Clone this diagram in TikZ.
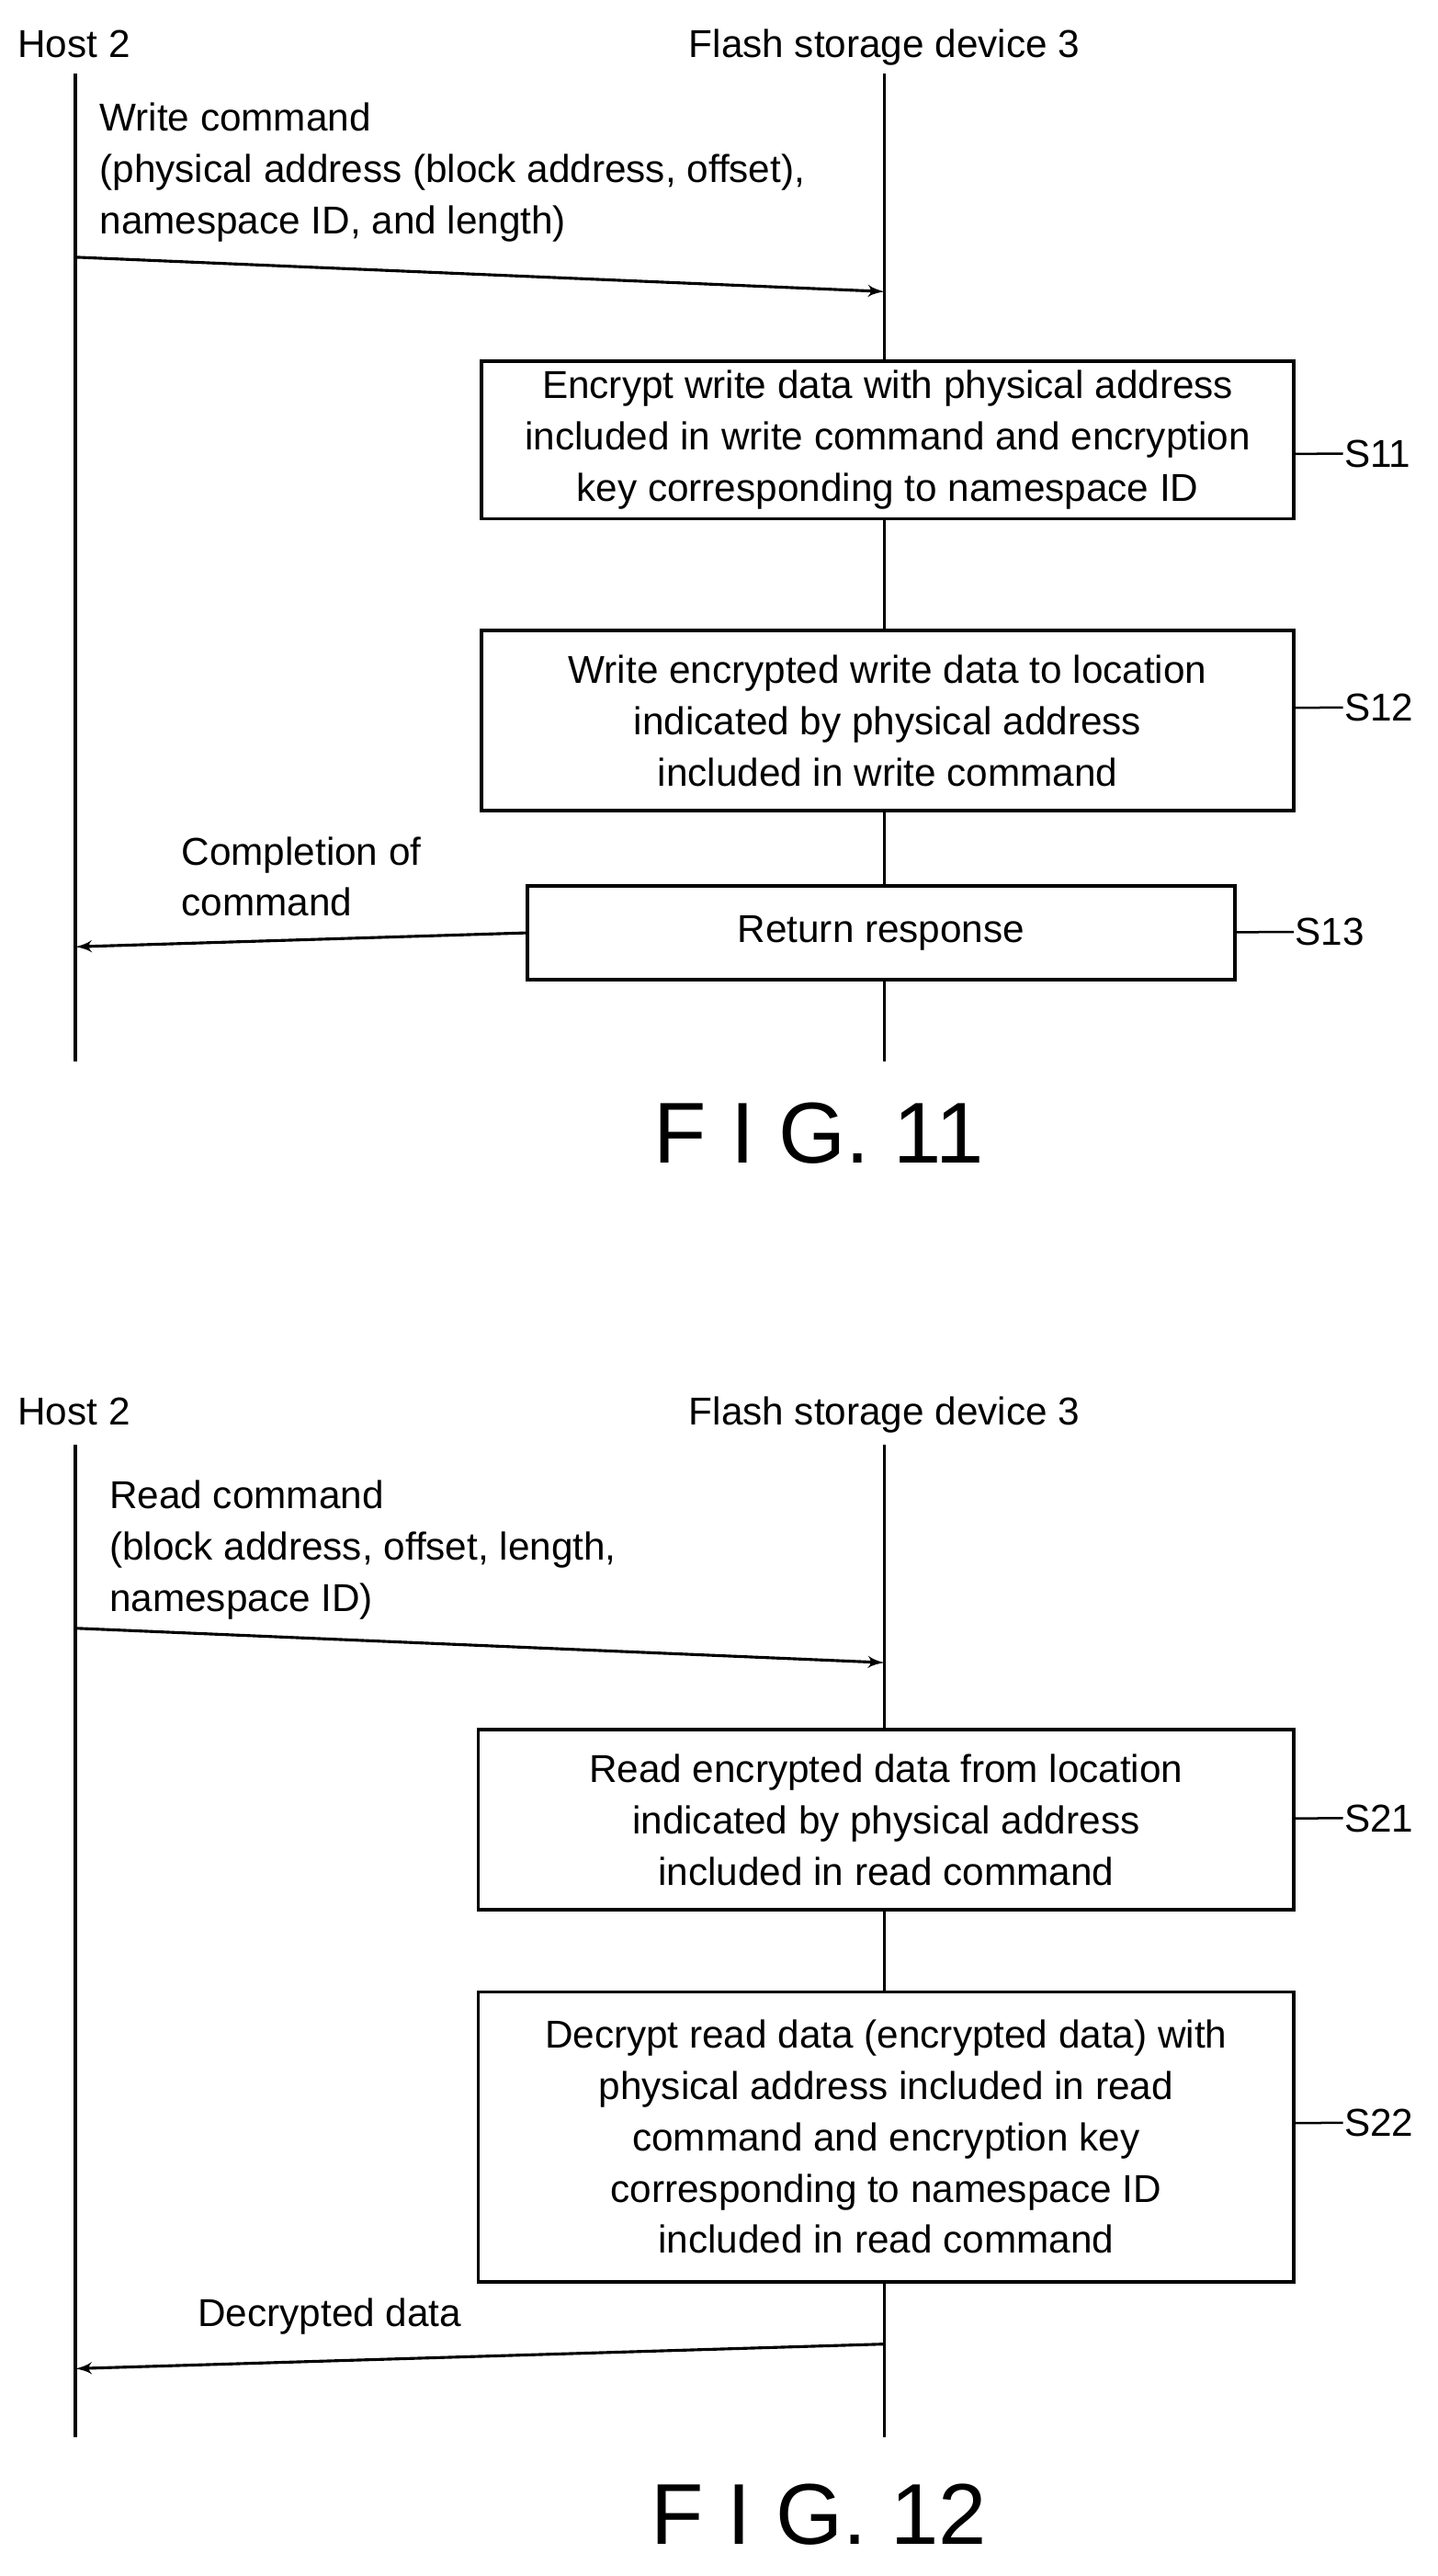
\documentclass[tikz,border=0pt]{standalone}
\usepackage{fontspec}
\setmainfont{Liberation Sans}
\usetikzlibrary{shapes,arrows,positioning}
\tikzstyle{block} = [draw, rectangle, line width=1.2pt, align=center,
    font=\fontsize{13.5}{17.8}\selectfont]
\tikzstyle{lbl} = [align=left, anchor=north west, inner sep=0pt,
    font=\fontsize{13.5}{17.8}\selectfont]
\tikzstyle{steplbl} = [anchor=west, inner sep=0pt, font=\fontsize{13.5}{16}\selectfont]
\tikzstyle{fig} = [font=\fontsize{30}{30}\selectfont]
\tikzstyle{life} = [line width=1pt]
\newcommand{\squig}[2]{\draw[line width=0.8pt] (#1) .. controls ++(0.2,0.25) and ++(-0.2,-0.25) .. (#2);}

\begin{document}
\begin{tikzpicture}[x=0.02cm, y=-0.02cm, >=latex', line width=1pt]
    \useasboundingbox (0,0) rectangle (878,1572.6);
    % FIG. 11
    \node [anchor=base west, inner sep=0pt, font=\fontsize{13.5}{16}\selectfont] (host1) at (10,35) {Host 2};
    \node [anchor=base, inner sep=0pt, font=\fontsize{13.5}{16}\selectfont] (dev1) at (540,35) {Flash storage device 3};
    \coordinate (h1top) at (46,45);
    \coordinate (h1bot) at (46,648);
    \coordinate (d1top) at (540,45);
    \coordinate (d1bot) at (540,648);
    \draw [life] (h1top) -- (h1bot);
    \draw [life] (d1top) -- (d1bot);
    \node [lbl] (wcmd) at (60,62) {Write command\\(physical address (block address, offset),\\namespace ID, and length)};
    \coordinate (wfrom) at (46,157);
    \coordinate (wto) at (540,178);
    \draw [->] (wfrom) -- (wto);
    \node [block, fill=white, minimum width=9.92cm, minimum height=1.86cm] (s11) at (542,268.5)
        {Encrypt write data with physical address\\included in write command and encryption\\key corresponding to namespace ID};
    \node [block, fill=white, minimum width=9.92cm, minimum height=2.2cm] (s12) at (542,440)
        {Write encrypted write data to location\\indicated by physical address\\included in write command};
    \node [block, fill=white, minimum width=8.64cm, minimum height=1.14cm] (s13) at (538,569.5) {Return response};
    \node [steplbl] (l11) at (820,277) {S11};
    \node [steplbl] (l12) at (820,432) {S12};
    \node [steplbl] (l13) at (790,569) {S13};
    \squig{s11.east |- l11.west}{l11.west}
    \squig{s12.east |- l12.west}{l12.west}
    \squig{s13.east |- l13.west}{l13.west}
    \node [lbl] (done) at (110,510) {Completion of\\command};
    \coordinate (rto) at (46,578);
    \draw [->] (s13.west) -- (rto);
    \node [fig] (f11) at (500,692) {F I G. 11};

    % FIG. 12
    \node [anchor=base west, inner sep=0pt, font=\fontsize{13.5}{16}\selectfont] (host2) at (10,870) {Host 2};
    \node [anchor=base, inner sep=0pt, font=\fontsize{13.5}{16}\selectfont] (dev2) at (540,870) {Flash storage device 3};
    \coordinate (h2top) at (46,882);
    \coordinate (h2bot) at (46,1488);
    \coordinate (d2top) at (540,882);
    \coordinate (d2bot) at (540,1488);
    \draw [life] (h2top) -- (h2bot);
    \draw [life] (d2top) -- (d2bot);
    \node [lbl] (rcmd) at (66,903) {Read command\\(block address, offset, length,\\namespace ID)};
    \coordinate (rfrom) at (46,994);
    \coordinate (rdto) at (540,1015);
    \draw [->] (rfrom) -- (rdto);
    \node [block, fill=white, minimum width=9.96cm, minimum height=2.2cm] (s21) at (541,1111)
        {Read encrypted data from location\\indicated by physical address\\included in read command};
    \node [block, fill=white, minimum width=9.96cm, minimum height=3.54cm] (s22) at (541,1304.5)
        {Decrypt read data (encrypted data) with\\physical address included in read\\command and encryption key\\corresponding to namespace ID\\included in read command};
    \node [steplbl] (l21) at (820,1110) {S21};
    \node [steplbl] (l22) at (820,1296) {S22};
    \squig{s21.east |- l21.west}{l21.west}
    \squig{s22.east |- l22.west}{l22.west}
    \node [lbl] (dec) at (120,1402) {Decrypted data};
    \coordinate (dfrom) at (540,1431);
    \coordinate (dto) at (46,1446);
    \draw [->] (dfrom) -- (dto);
    \node [fig] (f12) at (500,1535) {F I G. 12};
\end{tikzpicture}
\end{document}
